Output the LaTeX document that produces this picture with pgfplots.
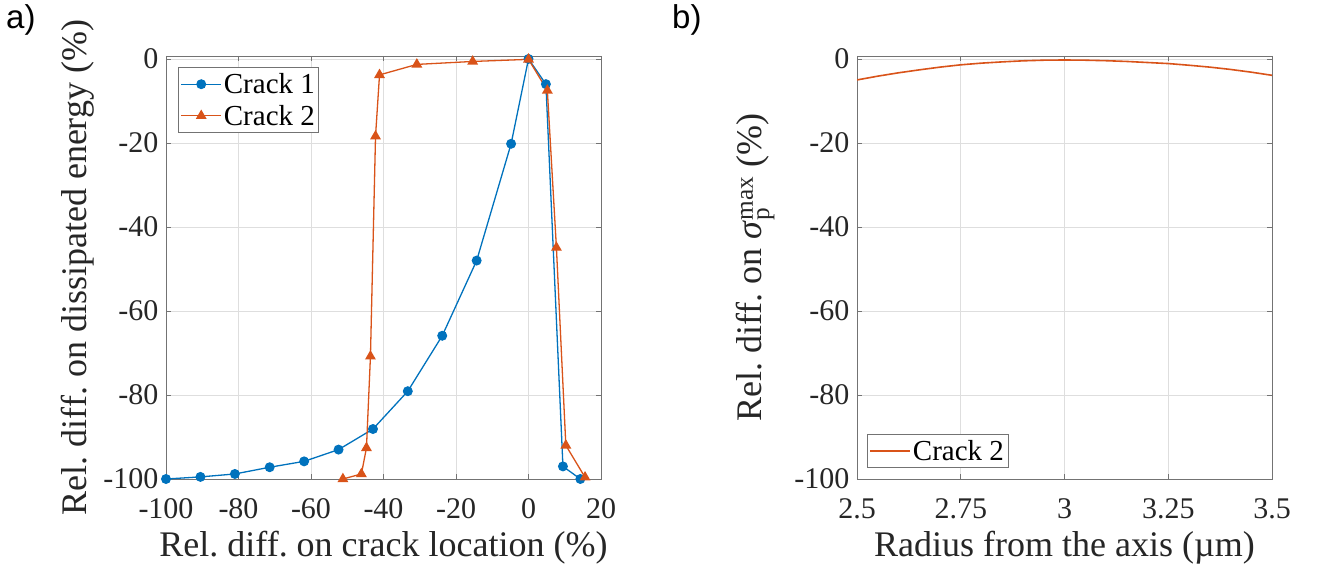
\documentclass[border=0pt]{standalone}
\usepackage{fontspec}
\usepackage{amsmath}
\usepackage{pgfplots}
\pgfplotsset{compat=1.18}
\setmainfont{Liberation Serif}
\newfontfamily\panelfont{Liberation Sans}
\frenchspacing
\definecolor{mblue}{HTML}{0072BD}
\definecolor{morange}{HTML}{D95319}
\definecolor{axgray}{HTML}{262626}
\pgfplotsset{
  mstyle/.style={
    scale only axis,
    anchor=north west,
    height=423pt,
    ymin=-100, ymax=0.7,
    ytick={-100,-80,-60,-40,-20,0},
    grid=major,
    grid style={color=black!13, line width=0.6pt},
    tick align=inside,
    major tick length=5pt,
    axis line style={color=black!55, line width=0.8pt},
    tick style={color=black!55, line width=0.8pt},
    /pgf/number format/assume math mode=true,
    tick label style={font=\fontsize{30}{30}\selectfont, color=axgray},
    legend style={font=\fontsize{29}{30}\selectfont, draw=black!55, line width=0.8pt, inner xsep=2pt, inner ysep=4pt, row sep=6pt, text=black},
    legend cell align=left,
    legend image code/.code={\draw[mark repeat=2,mark phase=2,##1] plot coordinates {(0pt,0pt) (20pt,0pt) (40pt,0pt)};},
    xticklabel style={yshift=-16pt},
    yticklabel style={xshift=-4pt},
    xlabel style={at={(axis description cs:0.5,-0.184)}, anchor=base, font=\fontsize{36}{36}\selectfont, color=axgray},
  }
}
\begin{document}
\begin{tikzpicture}
\useasboundingbox (0,0) rectangle (1319pt,-569pt);
\node[anchor=north west, inner sep=0pt, font=\panelfont\fontsize{33}{33}\selectfont] at (6pt,-4pt) {a)};
\node[anchor=north west, inner sep=0pt, font=\panelfont\fontsize{33}{33}\selectfont] at (672pt,-4pt) {b)};
\begin{axis}[mstyle,
  at={(166pt,-56pt)}, width=435pt,
  xmin=-100, xmax=20,
  xtick={-100,-80,-60,-40,-20,0,20},
  xlabel={Rel. diff. on crack location (\%)},
  ylabel={Rel. diff. on dissipated energy (\%)},
  ylabel style={at={(axis description cs:-0.182,0.5)}, anchor=base, rotate=0, font=\fontsize{36}{36}\selectfont, color=axgray},
  legend style={at={(0.028,0.974)}, anchor=north west},
]
\addplot[color=mblue, line width=1.3pt, mark=*, mark size=4.3pt, mark options={fill=mblue, draw=mblue}] coordinates {
(-100,-100) (-90.5,-99.5) (-81,-98.8) (-71.4,-97.2) (-61.9,-95.8) (-52.4,-93.0)
(-42.9,-88.1) (-33.3,-79.1) (-23.8,-65.9) (-14.3,-48.0) (-4.8,-20.2) (0,0)
(4.8,-6.0) (9.5,-97.0) (14.3,-100)
};
\addlegendentry{Crack 1}
\addplot[color=morange, line width=1.3pt, mark=triangle*, mark size=5pt, mark options={fill=morange, draw=morange}] coordinates {
(-51.2,-100) (-46.1,-98.8) (-44.7,-92.6) (-43.6,-70.8) (-42.2,-18.4) (-41.1,-3.8)
(-30.8,-1.3) (-15.4,-0.6) (0,-0.1) (5.2,-7.5) (7.7,-44.9) (10.3,-92.0) (15.6,-99.6)
};
\addlegendentry{Crack 2}
\end{axis}
\begin{axis}[mstyle,
  at={(857pt,-56pt)}, width=415pt,
  xmin=2.5, xmax=3.5,
  xtick={2.5,2.75,3,3.25,3.5},
  xticklabels={2.5,2.75,3,3.25,3.5},
  xlabel={Radius from the axis (µm)},
  ylabel={Rel. diff. on \textit{σ}$^{\text{max}}_{\text{p}}$ (\%)},
  ylabel style={at={(axis description cs:-0.229,0.5)}, anchor=base, rotate=0, font=\fontsize{36}{36}\selectfont, color=axgray},
  legend style={at={(0.024,0.026)}, anchor=south west},
]
\addplot[color=morange, line width=1.6pt, no markers] coordinates {
(2.5,-5.0) (2.55,-4.1) (2.6,-3.3) (2.65,-2.6) (2.7,-1.95) (2.75,-1.4) (2.8,-1.0)
(2.85,-0.7) (2.9,-0.45) (2.95,-0.3) (3.0,-0.25) (3.05,-0.3) (3.1,-0.42) (3.15,-0.6)
(3.2,-0.85) (3.25,-1.1) (3.3,-1.5) (3.35,-1.95) (3.4,-2.5) (3.45,-3.15) (3.5,-3.9)
};
\addlegendentry{Crack 2}
\end{axis}
\end{tikzpicture}
\end{document}
